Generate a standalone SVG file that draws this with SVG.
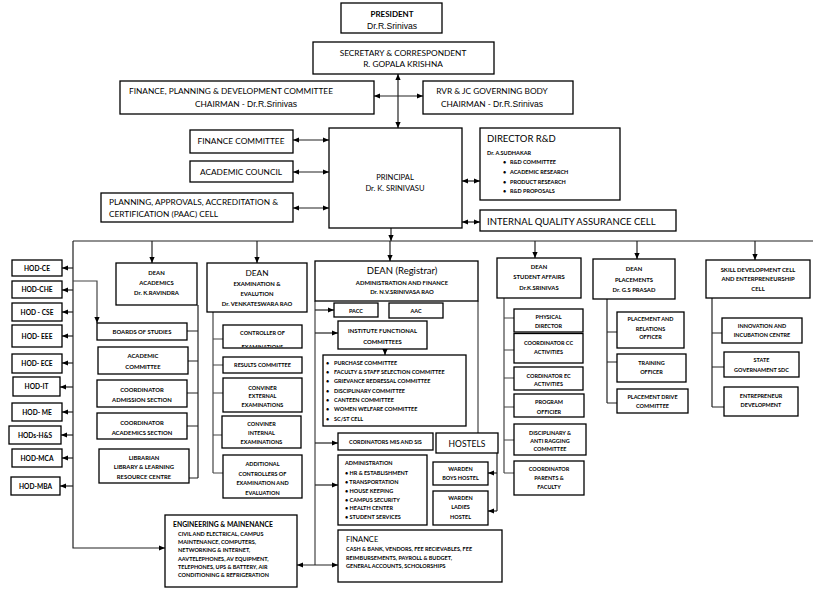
<svg xmlns="http://www.w3.org/2000/svg" width="831" height="591" viewBox="0 0 831 591">
<defs>
<marker id="ar" viewBox="0 0 6 6" refX="6" refY="3" markerWidth="6" markerHeight="6" markerUnits="userSpaceOnUse" orient="auto-start-reverse"><path d="M0,0.4 L6,3 L0,5.6z" fill="#000"/></marker>
<clipPath id="ccl"><rect x="223" y="325" width="79" height="22.3"/></clipPath>
</defs>
<style>
.b{fill:#fff;stroke:#000;stroke-width:1.3}
.c{fill:none;stroke:#222;stroke-width:1.2}
.g{stroke:#444}
.e{marker-end:url(#ar)}
.d{marker-start:url(#ar);marker-end:url(#ar)}
text{font-family:Lato,"Noto Sans","Liberation Sans",sans-serif;fill:#000}
.m{text-anchor:middle}
.t{font-size:8.3px}
.r{font-family:"Liberation Sans",Arial,sans-serif;font-size:8.6px}
.L{font-size:9.5px}
.h{font-size:6.6px;font-weight:bold}
.s{font-size:5.9px;font-weight:bold}
.x{font-size:5.5px;font-weight:bold}
</style>
<rect width="831" height="591" fill="#fff"/>

<g id="connectors">
<path class="c d" d="M398,74 V128"/>
<path class="c d" d="M374,96 H423"/>
<path class="c d" d="M293,140 H329"/>
<path class="c d" d="M293,172 H329"/>
<path class="c d" d="M293,208 H329"/>
<path class="c d" d="M462,181 H480"/>
<path class="c d" d="M462,222 H480"/>
<path class="c e" d="M391,228 V241"/>
<path class="c" d="M73,241 H813"/>
<path class="c e" d="M152,241 V263"/>
<path class="c e" d="M257,241 V263"/>
<path class="c e" d="M390,241 V261"/>
<path class="c e" d="M535,241 V258"/>
<path class="c e" d="M637,241 V259"/>
<path class="c e" d="M755,241 V260"/>
<path class="c e" d="M73,241 V548 H165"/>
<path class="c e" d="M73,268 H62"/>
<path class="c e" d="M73,290 H62"/>
<path class="c e" d="M73,312 H62"/>
<path class="c e" d="M73,336 H62"/>
<path class="c e" d="M73,363 H62"/>
<path class="c e" d="M73,387 H60"/>
<path class="c e" d="M73,412 H62"/>
<path class="c e" d="M73,435 H61"/>
<path class="c e" d="M73,458 H62"/>
<path class="c e" d="M73,486 H60"/>
<path class="c g e" d="M73,281 H97 V323"/>
<path class="c" d="M198,305 V478 M198,331 H187 M198,361 H188 M198,393 H187 M198,426 H187 M198,478 H189"/>
<path class="c g" d="M213,312 V473 M213,339 H223 M213,365 H223 M213,393 H223 M213,435 H222 M213,473 H223"/>
<path class="c g" d="M315,301 V565 M478,301 V433"/>
<path class="c e" d="M315,310 H334"/>
<path class="c e" d="M315,333 H338"/>
<path class="c e" d="M315,443 H338"/>
<path class="c e" d="M315,485 H338"/>
<path class="c e" d="M385,349 V355"/>
<path class="c d" d="M297,565 H338"/>
<path class="c" d="M497,453 V511"/>
<path class="c e" d="M497,473 H488"/>
<path class="c e" d="M497,511 H488"/>
<path class="c g" d="M504,298 V473 M504,318 H514 M504,350 H514 M504,378 H514 M504,407 H514 M504,440 H514 M504,473 H514"/>
<path class="c" d="M607,299 V403 M607,332 H617 M607,362 H617 M607,403 H617"/>
<path class="c" d="M712,298 V407 M712,333 H722 M712,367 H724 M712,407 H724"/>
</g>

<g id="president"><rect class="b" x="341" y="3" width="101" height="30"/>
<text class="m" x="392" y="17" style="font-size:8px;font-weight:bold">PRESIDENT</text>
<text class="m r" x="392" y="29">Dr.R.Srinivas</text></g>

<g id="secretary"><rect class="b" x="313" y="42" width="181" height="32"/>
<text class="m t" x="403" y="56">SECRETARY &amp; CORRESPONDENT</text>
<text class="m t" x="403" y="67">R. GOPALA KRISHNA</text></g>

<g id="fpd"><rect class="b" x="120" y="81" width="254" height="33"/>
<text class="t" x="129" y="94">FINANCE, PLANNING &amp; DEVELOPMENT COMMITTEE</text>
<text class="m t" x="246" y="107">CHAIRMAN - <tspan class="r">Dr.R.Srinivas</tspan></text></g>

<g id="rvr"><rect class="b" x="423" y="81" width="150" height="33"/>
<text class="m t" x="492" y="94">RVR &amp; JC GOVERNING BODY</text>
<text class="m t" x="492" y="107">CHAIRMAN - <tspan class="r">Dr.R.Srinivas</tspan></text></g>

<g id="finance-committee"><rect class="b" x="190" y="130" width="103" height="23"/>
<text class="m t" x="241" y="144">FINANCE COMMITTEE</text></g>

<g id="academic-council"><rect class="b" x="190" y="161" width="103" height="21"/>
<text class="m t" x="241" y="175">ACADEMIC COUNCIL</text></g>

<g id="paac"><rect class="b" x="101" y="193" width="192" height="29"/>
<text class="t" x="109" y="205">PLANNING, APPROVALS, ACCREDITATION &amp;</text>
<text class="t" x="109" y="217">CERTIFICATION (PAAC) CELL</text></g>

<g id="principal"><rect class="b" x="329" y="128" width="133" height="100"/>
<text class="m" x="395" y="180" style="font-size:7.6px">PRINCIPAL</text>
<text class="m" x="395" y="191" style="font-size:7.6px">Dr. K. SRINIVASU</text></g>

<g id="director-rd"><rect class="b" x="480" y="128" width="140" height="72"/>
<text class="L" x="487" y="141.5">DIRECTOR R&amp;D</text>
<text class="x" x="487" y="155">Dr. A.SUDHAKAR</text>
<text class="x" x="503" y="164">•<tspan x="510">R&amp;D COMMITTEE</tspan></text>
<text class="x" x="503" y="174">•<tspan x="510">ACADEMIC RESEARCH</tspan></text>
<text class="x" x="503" y="184">•<tspan x="510">PRODUCT RESEARCH</tspan></text>
<text class="x" x="503" y="193">•<tspan x="510">R&amp;D PROPOSALS</tspan></text></g>

<g id="iqac"><rect class="b" x="480" y="210" width="196" height="21"/>
<text class="L" x="487" y="225">INTERNAL QUALITY ASSURANCE CELL</text></g>

<g id="hod-ce"><rect class="b" x="12" y="260" width="50" height="16"/><text class="m h" x="37" y="270.5">HOD-CE</text></g>
<g id="hod-che"><rect class="b" x="12" y="281" width="50" height="17"/><text class="m h" x="37" y="292">HOD-CHE</text></g>
<g id="hod-cse"><rect class="b" x="12" y="303" width="50" height="18"/><text class="m h" x="37" y="314.5">HOD - CSE</text></g>
<g id="hod-eee"><rect class="b" x="12" y="325" width="50" height="22"/><text class="m h" x="37" y="338.5">HOD- EEE</text></g>
<g id="hod-ece"><rect class="b" x="12" y="354" width="50" height="19"/><text class="m h" x="37" y="366">HOD- ECE</text></g>
<g id="hod-it"><rect class="b" x="13" y="377" width="47" height="19"/><text class="m h" x="36.5" y="389">HOD-IT</text></g>
<g id="hod-me"><rect class="b" x="12" y="403" width="50" height="18"/><text class="m h" x="37" y="414.5">HOD- ME</text></g>
<g id="hod-hs"><rect class="b" x="9" y="426" width="52" height="18"/><text class="m h" x="35" y="437.5">HODs-H&amp;S</text></g>
<g id="hod-mca"><rect class="b" x="12" y="449" width="50" height="18"/><text class="m h" x="37" y="460.5">HOD-MCA</text></g>
<g id="hod-mba"><rect class="b" x="11" y="477" width="49" height="18"/><text class="m h" x="35.5" y="488.5">HOD-MBA</text></g>

<g id="dean-academics"><rect class="b" x="116" y="263" width="81" height="42"/>
<text class="m s" x="156.5" y="275">DEAN</text>
<text class="m s" x="156.5" y="285">ACADEMICS</text>
<text class="m s" x="156.5" y="295">Dr. K.RAVINDRA</text></g>

<g id="boards"><rect class="b" x="97" y="323" width="90" height="17"/><text class="m s" x="142" y="334">BOARDS OF STUDIES</text></g>
<g id="academic-committee"><rect class="b" x="98" y="347" width="90" height="27"/>
<text class="m s" x="143" y="358">ACADEMIC</text><text class="m s" x="143" y="368.5">COMMITTEE</text></g>
<g id="coord-admission"><rect class="b" x="97" y="380" width="90" height="27"/>
<text class="m s" x="142" y="391.5">COORDINATOR</text><text class="m s" x="142" y="401.5">ADMISSION SECTION</text></g>
<g id="coord-academics"><rect class="b" x="97" y="413" width="90" height="26"/>
<text class="m s" x="142" y="424.5">COORDINATOR</text><text class="m s" x="142" y="434.5">ACADEMICS SECTION</text></g>
<g id="librarian"><rect class="b" x="99" y="449" width="90" height="34"/>
<text class="m s" x="144" y="459.5">LIBRARIAN</text><text class="m s" x="144" y="469">LIBRARY &amp; LEARNING</text><text class="m s" x="144" y="478.5">RESOURCE CENTRE</text></g>

<g id="dean-exam"><rect class="b" x="207" y="263" width="100" height="49"/>
<text class="m" x="257" y="276" style="font-size:8.3px">DEAN</text>
<text class="m s" x="257" y="285.5">EXAMINATION &amp;</text>
<text class="m s" x="257" y="295.5">EVALUTION</text>
<text class="m s" x="257" y="305.5">Dr. VENKATESWARA RAO</text></g>

<g id="controller"><rect class="b" x="223" y="325" width="79" height="23"/>
<g clip-path="url(#ccl)"><text class="m x" x="262.5" y="335">CONTROLLER OF</text><text class="m x" x="262.5" y="348.5">EXAMINATIONS</text></g></g>
<g id="results"><rect class="b" x="223" y="357" width="79" height="16"/><text class="m x" x="262.5" y="367">RESULTS COMMITTEE</text></g>
<g id="conv-ext"><rect class="b" x="223" y="378" width="79" height="34"/>
<text class="m x" x="262.5" y="389.5">CONVINER</text><text class="m x" x="262.5" y="398">EXTERNAL</text><text class="m x" x="262.5" y="406.5">EXAMINATIONS</text></g>
<g id="conv-int"><rect class="b" x="222" y="416" width="79" height="32"/>
<text class="m x" x="261.5" y="426">CONVINER</text><text class="m x" x="261.5" y="434.7">INTERNAL</text><text class="m x" x="261.5" y="443.7">EXAMINATIONS</text></g>
<g id="additional"><rect class="b" x="223" y="455" width="79" height="43"/>
<text class="m x" x="262.5" y="465.5">ADDITIONAL</text><text class="m x" x="262.5" y="475.5">CONTROLLERS OF</text><text class="m x" x="262.5" y="484.8">EXAMINATION AND</text><text class="m x" x="262.5" y="494.8">EVALUATION</text></g>

<g id="dean-registrar"><rect class="b" x="315" y="261" width="163" height="40"/>
<text class="m" x="402" y="274" style="font-size:9.5px">DEAN (Registrar)</text>
<text class="m s" x="402" y="284.8">ADMINISTRATION AND FINANCE</text>
<text class="m s" x="402" y="293.5">Dr. N.V.SRINIVASA RAO</text></g>

<g id="pacc"><rect class="b" x="334" y="303" width="44" height="14"/><text class="m x" x="356" y="312.5">PACC</text></g>
<g id="aac"><rect class="b" x="389" y="303" width="54" height="15"/><text class="m x" x="416" y="312.5">AAC</text></g>
<g id="institute"><rect class="b" x="338" y="321" width="89" height="28"/>
<text class="m s" x="382.5" y="333">INSTITUTE FUNCTIONAL</text><text class="m s" x="382.5" y="344">COMMITTEES</text></g>
<g id="committee-list"><rect class="b" x="323" y="355" width="143" height="71"/>
<text class="x" x="326" y="364.5">•<tspan x="334">PURCHASE COMMITTEE</tspan></text>
<text class="x" x="326" y="374">•<tspan x="334">FACULTY &amp; STAFF SELECTION COMMITTEE</tspan></text>
<text class="x" x="326" y="383.3">•<tspan x="334">GRIEVANCE REDRESSAL COMMITTEE</tspan></text>
<text class="x" x="326" y="392.6">•<tspan x="334">DISCIPLINARY COMMITTEE</tspan></text>
<text class="x" x="326" y="402">•<tspan x="334">CANTEEN COMMITTEE</tspan></text>
<text class="x" x="326" y="411.3">•<tspan x="334">WOMEN WELFARE COMMITTEE</tspan></text>
<text class="x" x="326" y="420.6">•<tspan x="334">SC/ST CELL</tspan></text></g>

<g id="mis"><rect class="b" x="338" y="433" width="95" height="17"/><text class="m x" x="385.5" y="444">CORDINATORS MIS AND SIS</text></g>
<g id="hostels"><rect class="b" x="436" y="433" width="62" height="20"/><text class="m" x="467" y="446.5" style="font-size:8.5px">HOSTELS</text></g>
<g id="administration"><rect class="b" x="338" y="455" width="89" height="70"/>
<text class="x" x="345" y="465">ADMINISTRATION</text>
<text class="x" x="345" y="475">• HR &amp; ESTABLISHMENT</text>
<text class="x" x="345" y="484">• TRANSPORTATION</text>
<text class="x" x="345" y="493">• HOUSE KEEPING</text>
<text class="x" x="345" y="501.5">• CAMPUS SECURITY</text>
<text class="x" x="345" y="510">• HEALTH CENTER</text>
<text class="x" x="345" y="519">• STUDENT SERVICES</text></g>
<g id="warden-boys"><rect class="b" x="433" y="462" width="55" height="23"/>
<text class="m x" x="460.5" y="471">WARDEN</text><text class="m x" x="460.5" y="480">BOYS HOSTEL</text></g>
<g id="warden-ladies"><rect class="b" x="433" y="491" width="55" height="34"/>
<text class="m x" x="460.5" y="500">WARDEN</text><text class="m x" x="460.5" y="509">LADIES</text><text class="m x" x="460.5" y="519">HOSTEL</text></g>
<g id="finance"><rect class="b" x="338" y="530" width="164" height="52"/>
<text x="346" y="541.5" style="font-size:7.5px">FINANCE</text>
<text class="x" x="346" y="550.5">CASH &amp; BANK, VENDORS, FEE  RECIEVABLES, FEE</text>
<text class="x" x="346" y="559.5">REIMBURSEMENTS, PAYROLL &amp; BUDGET,</text>
<text class="x" x="346" y="568">GENERAL ACCOUNTS, SCHOLORSHIPS</text></g>
<g id="engineering"><rect class="b" x="165" y="515" width="132" height="72"/>
<text x="173" y="527" style="font-size:6.8px;font-weight:bold">ENGINEERING &amp; MAINENANCE</text>
<text class="x" x="178" y="535.5">CIVIL AND ELECTRICAL, CAMPUS</text>
<text class="x" x="178" y="544">MAINTENANCE, COMPUTERS,</text>
<text class="x" x="178" y="552.3">NETWORKING &amp; INTERNET,</text>
<text class="x" x="178" y="560.6">AAVTELEPHONES, AV EQUIPMENT,</text>
<text class="x" x="178" y="569">TELEPHONES, UPS &amp; BATTERY, AIR</text>
<text class="x" x="178" y="577.3">CONDITIONING &amp; REFRIGERATION</text></g>

<g id="dean-student-affairs"><rect class="b" x="497" y="258" width="84" height="40"/>
<text class="m s" x="539" y="268.5">DEAN</text><text class="m s" x="539" y="278.5">STUDENT AFFAIRS</text><text class="m s" x="539" y="289.5">Dr.K.SRINIVAS</text></g>
<g id="physical"><rect class="b" x="514" y="309" width="69" height="23"/>
<text class="m x" x="548.5" y="318.7">PHYSICAL</text><text class="m x" x="548.5" y="327.7">DIRECTOR</text></g>
<g id="coord-cc"><rect class="b" x="514" y="333.5" width="69" height="29.5"/>
<text class="m x" x="548.5" y="344.7">COORDINATOR CC</text><text class="m x" x="548.5" y="353.7">ACTIVITIES</text></g>
<g id="coord-ec"><rect class="b" x="514" y="367" width="69" height="23"/>
<text class="m x" x="548.5" y="377.7">CORDINATOR EC</text><text class="m x" x="548.5" y="385.5">ACTIVITIES</text></g>
<g id="program"><rect class="b" x="514" y="394" width="70" height="23"/>
<text class="m x" x="549" y="404.3">PROGRAM</text><text class="m x" x="549" y="413.7">OFFICIER</text></g>
<g id="disciplinary"><rect class="b" x="514" y="424" width="72" height="31"/>
<text class="m x" x="550" y="434.7">DISCIPLINARY &amp;</text><text class="m x" x="550" y="443">ANTI RAGGING</text><text class="m x" x="550" y="451.3">COMMITTEE</text></g>
<g id="coord-parents"><rect class="b" x="514" y="461" width="70" height="34"/>
<text class="m x" x="549" y="471.3">COORDINATOR</text><text class="m x" x="549" y="480.3">PARENTS &amp;</text><text class="m x" x="549" y="488.7">FACULTY</text></g>

<g id="dean-placements"><rect class="b" x="593" y="259" width="82" height="40"/>
<text class="m s" x="634" y="270.5">DEAN</text><text class="m s" x="634" y="281.5">PLACEMENTS</text><text class="m s" x="634" y="291.5">Dr. G.S PRASAD</text></g>
<g id="placement-relations"><rect class="b" x="617" y="312" width="67" height="36"/>
<text class="m x" x="650.5" y="321.3">PLACEMENT  AND</text><text class="m x" x="650.5" y="330.7">RELATIONS</text><text class="m x" x="650.5" y="339.3">OFFICER</text></g>
<g id="training"><rect class="b" x="617" y="354" width="69" height="28"/>
<text class="m x" x="651.5" y="364.7">TRAINING</text><text class="m x" x="651.5" y="373.7">OFFICER</text></g>
<g id="placement-drive"><rect class="b" x="617" y="389" width="71" height="24"/>
<text class="m x" x="652.5" y="399.3">PLACEMENT DRIVE</text><text class="m x" x="652.5" y="407.7">COMMITTEE</text></g>

<g id="skill"><rect class="b" x="706" y="260" width="104" height="38"/>
<text class="m s" x="758" y="271.5">SKILL DEVELOPMENT CELL</text><text class="m s" x="758" y="280.5">AND ENTERPRENEURSHIP</text><text class="m s" x="758" y="290.5">CELL</text></g>
<g id="innovation"><rect class="b" x="722" y="318" width="80" height="25"/>
<text class="m x" x="762" y="328">INNOVATION AND</text><text class="m x" x="762" y="337">INCUBATION CENTRE</text></g>
<g id="state-sdc"><rect class="b" x="724" y="352" width="75" height="25"/>
<text class="m x" x="761.5" y="362">STATE</text><text class="m x" x="761.5" y="372">GOVERNAMENT SDC</text></g>
<g id="entrepreneur"><rect class="b" x="724" y="387" width="74" height="29"/>
<text class="m x" x="761" y="397.7">ENTREPRENEUR</text><text class="m x" x="761" y="407">DEVELOPMENT</text></g>
</svg>
